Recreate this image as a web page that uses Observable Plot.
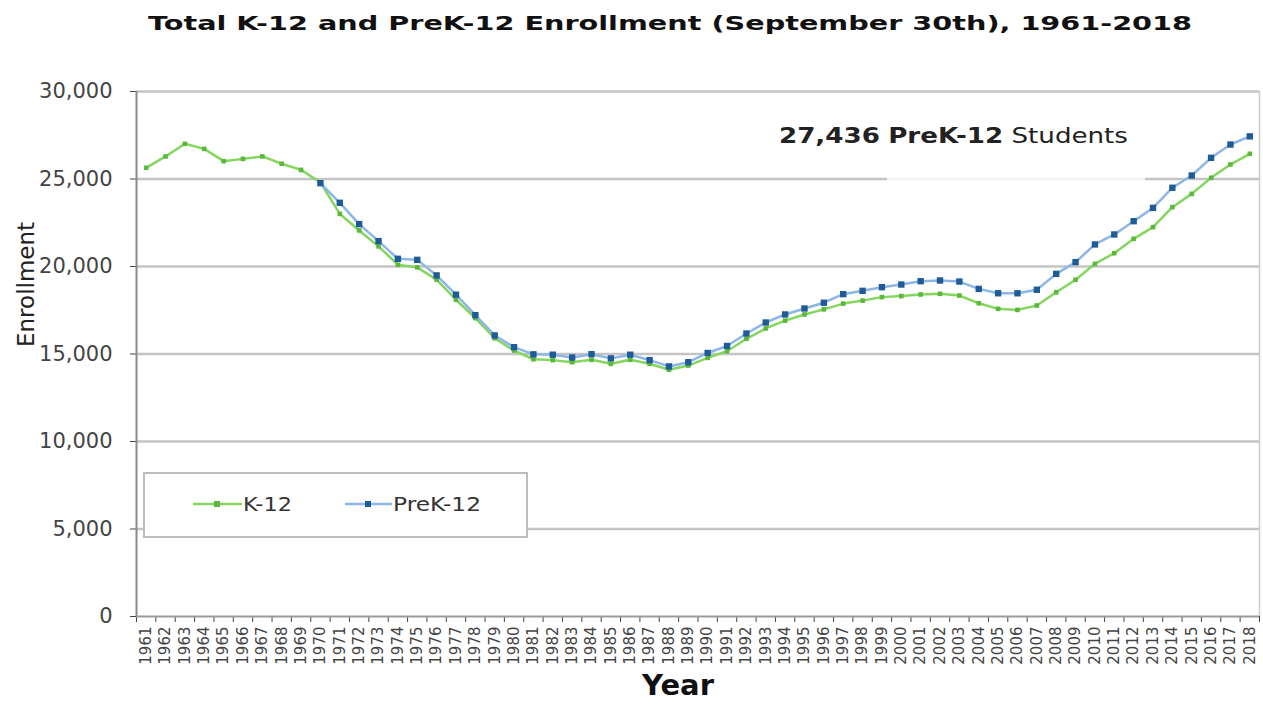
<!DOCTYPE html>
<html>
<head>
<meta charset="utf-8">
<script src="https://cdn.jsdelivr.net/npm/d3@7"></script>
<script src="https://cdn.jsdelivr.net/npm/@observablehq/plot@0.6"></script>
<style>
  body { margin: 0; background: #fff; }
  #wrap { position: relative; width: 1263px; height: 706px; overflow: hidden; }
  #overlay { position: absolute; left: 0; top: 0; pointer-events: none; }
</style>
</head>
<body>
<div id="wrap">
  <svg id="title" width="1263" height="44" style="display:block">
    <text x="670" y="30" text-anchor="middle" font-family="DejaVu Sans" font-weight="bold" font-size="19.5" fill="#111" textLength="1044" lengthAdjust="spacingAndGlyphs">Total K-12 and PreK-12 Enrollment (September 30th), 1961-2018</text>
  </svg>
  <div id="chart"></div>
  <svg id="overlay" width="1263" height="706">
    <rect x="887" y="175" width="258" height="7" fill="#fff" fill-opacity="0.8"></rect>
    <text x="779" y="143" font-family="DejaVu Sans" font-size="22" fill="#222" textLength="349" lengthAdjust="spacingAndGlyphs"><tspan font-weight="bold">27,436</tspan> <tspan font-weight="bold">PreK-12</tspan> Students</text>
    <rect x="144" y="473" width="383" height="64" fill="#fff" stroke="#bdbdbd" stroke-width="2"></rect>
    <line x1="193" x2="242" y1="504" y2="504" stroke="#84d65e" stroke-width="2.5"></line>
    <rect x="214" y="501" width="6" height="6" fill="#5cb83a"></rect>
    <text x="243" y="511" font-family="DejaVu Sans" font-size="19" fill="#333" textLength="49" lengthAdjust="spacingAndGlyphs">K-12</text>
    <line x1="345" x2="392" y1="504" y2="504" stroke="#8cb6e6" stroke-width="2.5"></line>
    <rect x="365" y="501" width="6" height="6" fill="#1f5b97"></rect>
    <text x="393" y="511" font-family="DejaVu Sans" font-size="19" fill="#333" textLength="88" lengthAdjust="spacingAndGlyphs">PreK-12</text>
  </svg>
</div>
<script>
const years = [1961,1962,1963,1964,1965,1966,1967,1968,1969,1970,
  1971,1972,1973,1974,1975,1976,1977,1978,1979,1980,
  1981,1982,1983,1984,1985,1986,1987,1988,1989,1990,
  1991,1992,1993,1994,1995,1996,1997,1998,1999,2000,
  2001,2002,2003,2004,2005,2006,2007,2008,2009,2010,
  2011,2012,2013,2014,2015,2016,2017,2018];

const k12 = [25640,26290,27010,26720,26020,26150,26290,25870,25520,
  24800,23010,22060,21150,20100,19950,19250,18100,17050,15900,
  15200,14700,14650,14530,14670,14440,14670,14440,14100,14340,
  14780,15160,15870,16460,16910,17260,17550,17880,18050,18250,
  18310,18400,18440,18340,17900,17580,17520,17770,18530,19240,
  20150,20760,21580,22250,23390,24150,25070,25830,26440];

const prek12 = [null,null,null,null,null,null,null,null,null,
  24760,23640,22420,21450,20440,20380,19490,18390,17220,16060,
  15390,14980,14960,14800,14990,14750,14960,14650,14290,14530,
  15060,15460,16170,16800,17260,17600,17930,18420,18610,18820,
  18970,19160,19200,19140,18720,18470,18470,18670,19580,20250,
  21260,21830,22590,23350,24500,25200,26210,26970,27436];

const yTicks = [0,5000,10000,15000,20000,25000,30000];
const gridTicks = [5000,10000,15000,20000,25000,30000];

const k12Data = years.map((year, i) => ({year, value: k12[i]}));
const prekData = years.map((year, i) => ({year, value: prek12[i]}));
const bounds = [years[0] - 0.5, ...years.map(y => y + 0.5)];
const comma = d3.format(",");

const chart = Plot.plot({
  width: 1263,
  height: 662,
  marginTop: 47,
  marginBottom: 90,
  marginLeft: 136,
  marginRight: 4,
  style: {fontFamily: "DejaVu Sans", fontSize: "21px", color: "#444", background: "#fff"},
  x: {domain: [bounds[0], bounds[bounds.length - 1]], ticks: bounds, tickFormat: () => "", tickSize: 6, label: null},
  y: {domain: [0, 30000], ticks: yTicks, tickFormat: d => comma(d), tickSize: 6, tickPadding: 18, label: null},
  marks: [
    Plot.ruleY(gridTicks, {stroke: "#c4c4c4", strokeWidth: 2.5}),
    Plot.ruleX([bounds[bounds.length - 1]], {stroke: "#cccccc", strokeWidth: 1.5}),
    Plot.ruleY([0], {stroke: "#9a9a9a", strokeWidth: 2}),
    Plot.ruleX([bounds[0]], {stroke: "#8a8a8a", strokeWidth: 2}),
    Plot.line(k12Data, {x: "year", y: "value", stroke: "#84d65e", strokeWidth: 2.5}),
    Plot.dot(k12Data, {x: "year", y: "value", symbol: "square", r: 2.6, fill: "#5cb83a", stroke: "none"}),
    Plot.line(prekData, {x: "year", y: "value", stroke: "#8cb6e6", strokeWidth: 2.5}),
    Plot.dot(prekData.filter(d => d.value != null), {x: "year", y: "value", symbol: "square", r: 3.6, fill: "#1f5b97", stroke: "none"}),
    Plot.text(years, {x: d => d, y: 0, text: d => String(d), rotate: -90, textAnchor: "end", dy: 10, fontSize: 15, fill: "#444"}),
    Plot.text(["Year"], {frameAnchor: "bottom", dx: -20, dy: 78, fontSize: 29, fontWeight: "bold", fill: "#111"}),
    Plot.text(["Enrollment"], {frameAnchor: "left", dx: -110, dy: -7, rotate: -90, fontSize: 23, fill: "#222"})
  ]
});
document.getElementById("chart").appendChild(chart);
</script>
</body>
</html>
